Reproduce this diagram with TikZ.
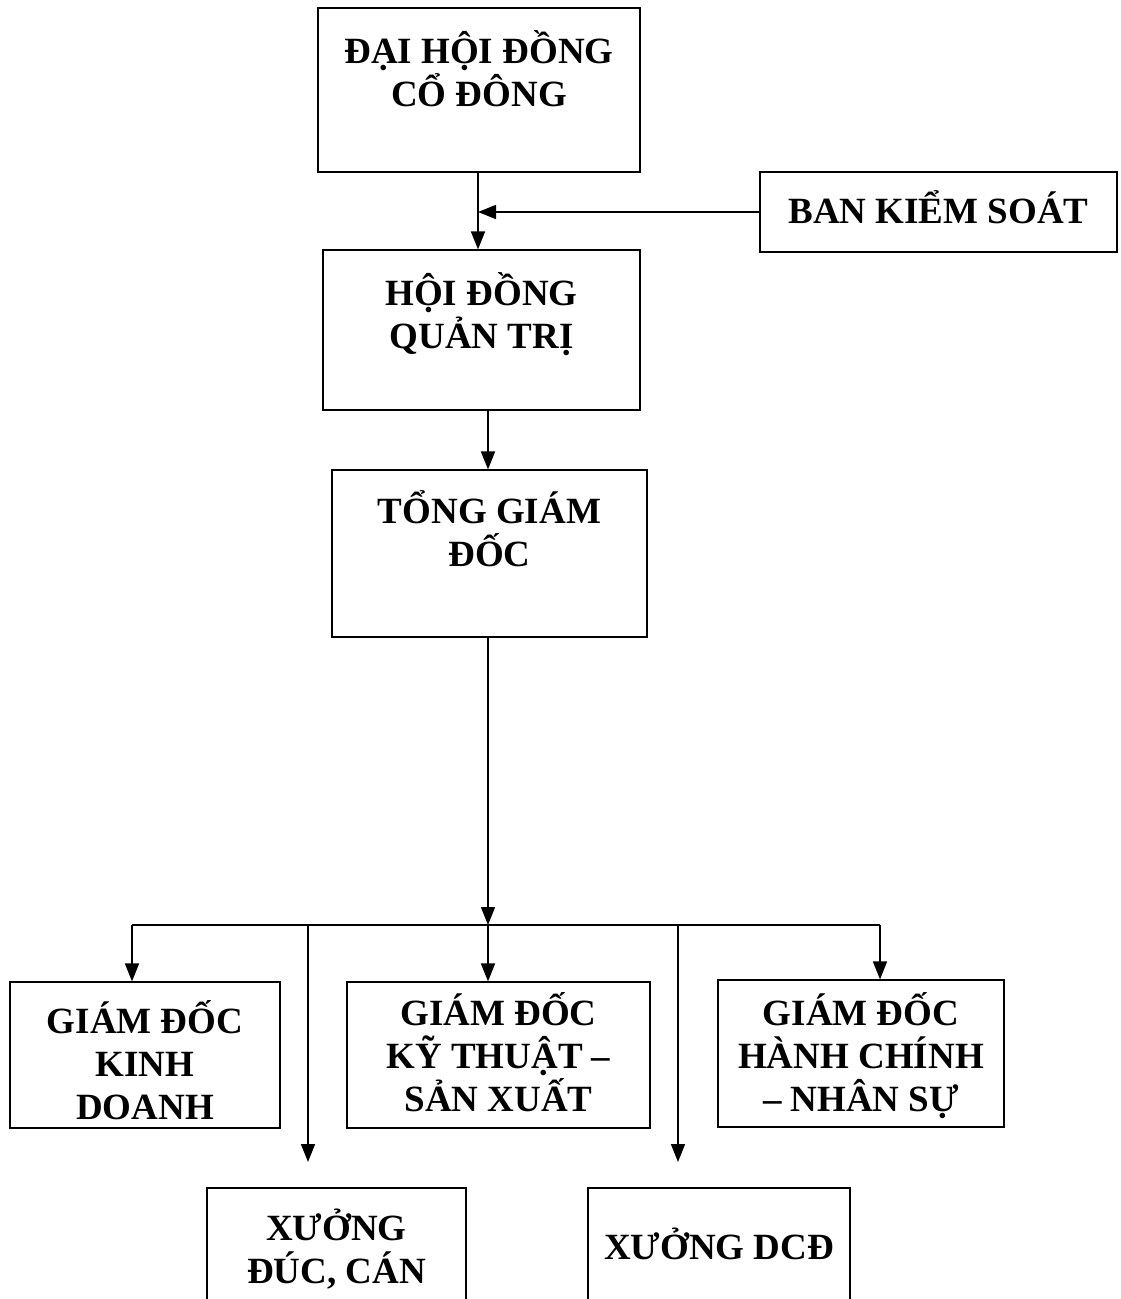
\documentclass[tikz,border=0pt]{standalone}
\usepackage{fontspec}
\setmainfont{Liberation Serif}
\usetikzlibrary{arrows.meta, positioning}
\tikzset{
  box/.style = {draw, line width=1.2pt, rectangle, inner sep=0pt},
  lbl/.style = {font=\fontsize{37}{43}\selectfont\bfseries, align=center, inner sep=0pt, anchor=base},
  line/.style = {line width=1.6pt},
  arrow/.style = {line width=1.6pt, -{Triangle[length=18pt,width=14pt]}}
}
\begin{document}
\begin{tikzpicture}[x=1pt,y=-1pt]
  \useasboundingbox (0,0) rectangle (1120,1299);
  \clip (0,0) rectangle (1120,1299);
  % upper boxes
  \node[box, minimum width=322, minimum height=164, label={[lbl, yshift=-99pt]north:{ĐẠI HỘI ĐỒNG\\CỔ ĐÔNG}}] (dhdcd) at (479,90) {};
  \node[box, minimum width=357, minimum height=80] (bks) at (938.5,212) {};
  \node[lbl] (bkstxt) at (938.5,223) {BAN KIỂM SOÁT};
  \node[box, minimum width=317, minimum height=160, label={[lbl, yshift=-99pt]north:{HỘI ĐỒNG\\QUẢN TRỊ}}] (hdqt) at (481.5,330) {};
  \node[box, minimum width=315, minimum height=167, label={[lbl, yshift=-97pt]north:{TỔNG GIÁM\\ĐỐC}}] (tgd) at (489.5,553.5) {};
  % lower boxes
  \node[box, minimum width=270, minimum height=146, label={[lbl, yshift=-138pt]north:{GIÁM ĐỐC\\KINH\\DOANH}}] (gdkd) at (145,1055) {};
  \node[box, minimum width=303, minimum height=146, label={[lbl, yshift=-130pt]north:{GIÁM ĐỐC\\KỸ THUẬT –\\SẢN XUẤT}}] (gdkt) at (498.5,1055) {};
  \node[box, minimum width=286, minimum height=147, label={[lbl, yshift=-132pt]north:{GIÁM ĐỐC\\HÀNH CHÍNH\\– NHÂN SỰ}}] (gdhc) at (861,1053.5) {};
  \node[box, minimum width=259, minimum height=160, label={[lbl, yshift=-96pt]north:{XƯỞNG\\ĐÚC, CÁN}}] (xdc) at (336.5,1268) {};
  \node[box, minimum width=262, minimum height=160, label={[lbl, yshift=-72pt]north:{XƯỞNG DCĐ}}] (xdcd) at (719,1268) {};
  % bus and branch points
  \coordinate (bus) at (488,925);
  \coordinate (b1) at (132,925);
  \coordinate (b2) at (308,925);
  \coordinate (b3) at (488,925);
  \coordinate (b4) at (678,925);
  \coordinate (b5) at (880,925);
  \coordinate (e2) at (308,1162);
  \coordinate (e4) at (678,1162);
  % connectors
  \draw[arrow] (478,172) coordinate (s1) -- (s1 |- hdqt.north);
  \draw[arrow] (bks.west) -- (s1 |- bks.west);
  \draw[arrow] (488,410) coordinate (s2) -- (s2 |- tgd.north);
  \draw[arrow] (bus |- tgd.south) -- (bus);
  \draw[line] (b1) -- (b5);
  \draw[arrow] (b1) -- (b1 |- gdkd.north);
  \draw[arrow] (b2) -- (e2);
  \draw[arrow] (b3) -- (b3 |- gdkt.north);
  \draw[arrow] (b4) -- (e4);
  \draw[arrow] (b5) -- (b5 |- gdhc.north);
\end{tikzpicture}
\end{document}
